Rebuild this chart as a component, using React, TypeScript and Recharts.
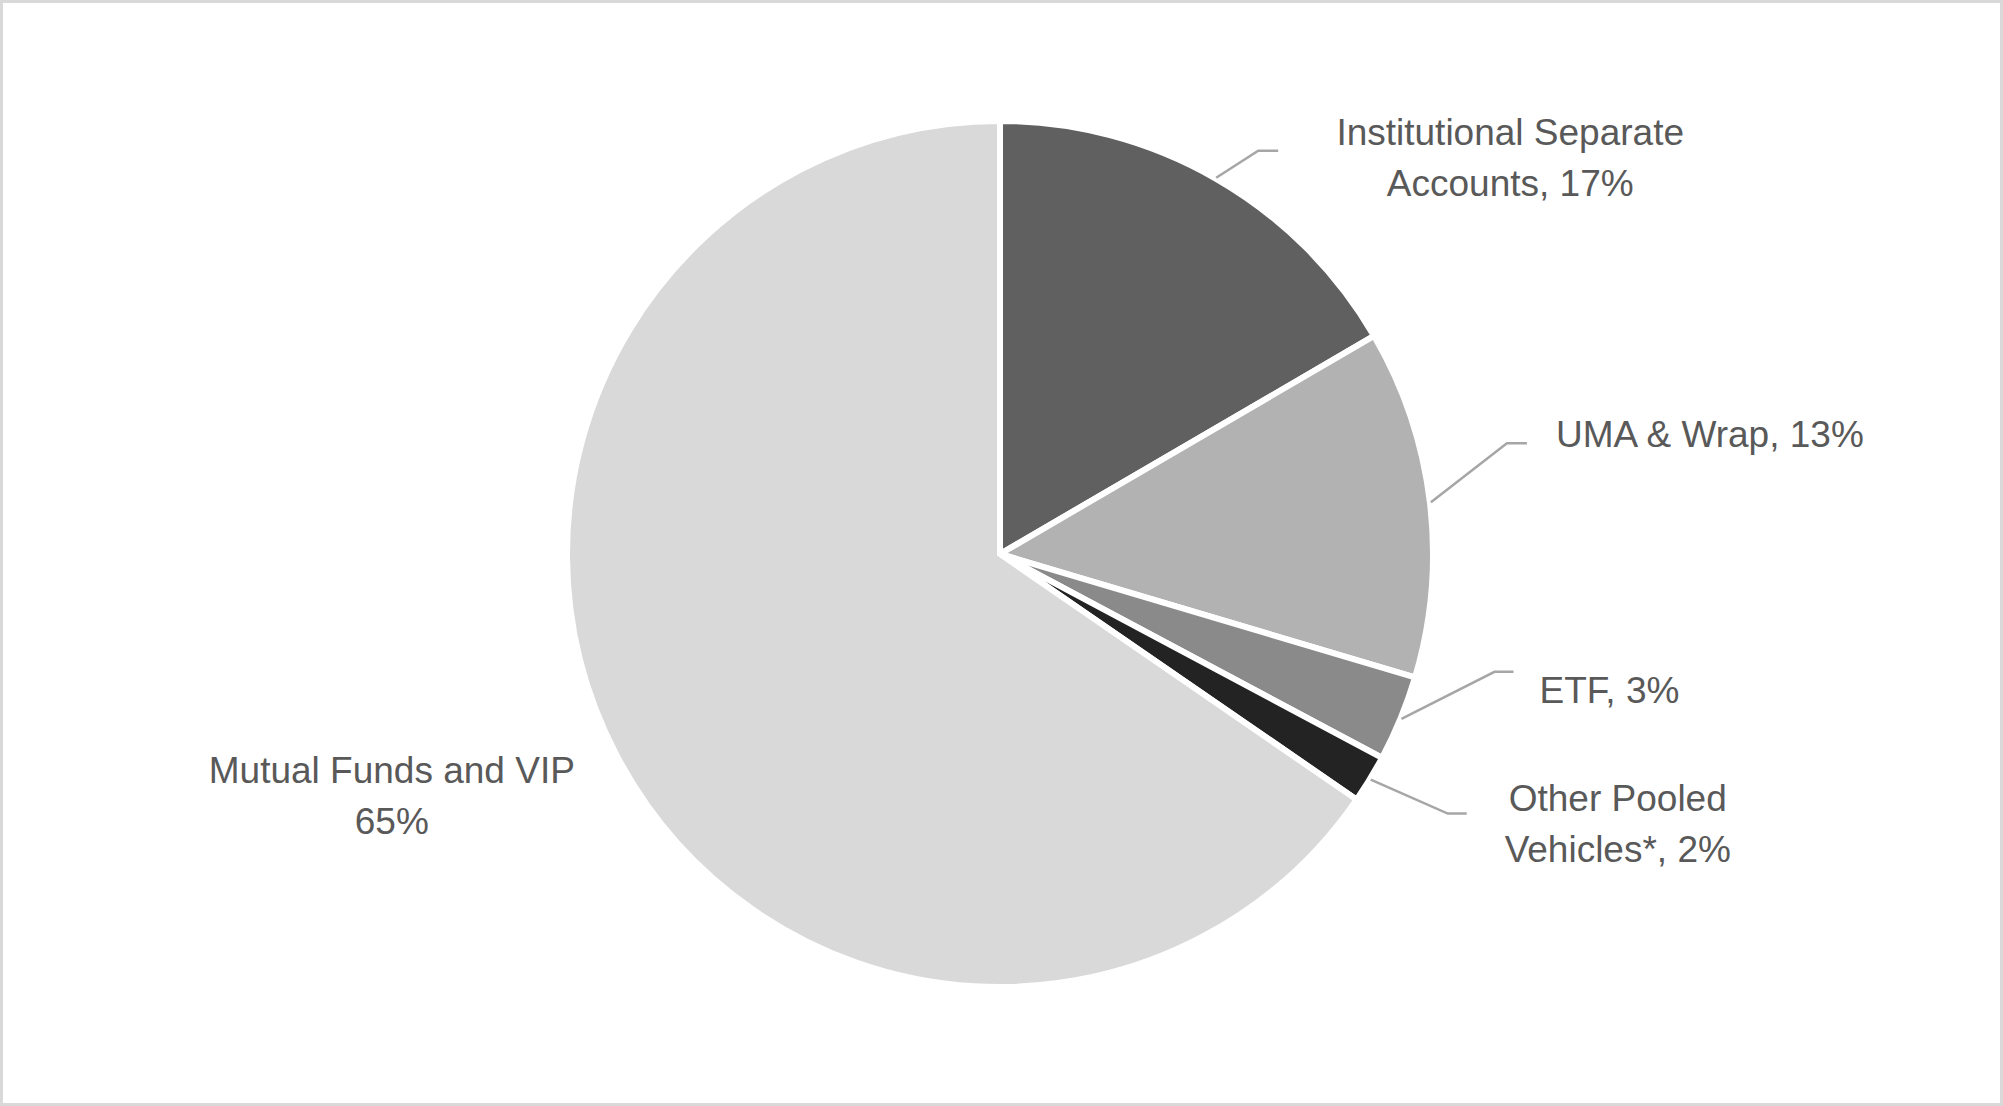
import { PieChart, Pie, Cell } from "recharts";

// Share of assets by vehicle (percent)
const categories = [
  "Institutional Separate Accounts",
  "UMA & Wrap",
  "ETF",
  "Other Pooled Vehicles*",
  "Mutual Funds and VIP",
];
const shares = [16.6, 13.0, 3.2, 1.8, 65.4];
const sliceColors = ["#606060", "#b2b2b2", "#8a8a8a", "#232323", "#d9d9d9"];

// how many words stay on the first label row ("pct" = percent on its own row)
const labelWraps: (number | "pct")[] = [2, 0, 0, 2, "pct"];

const data = categories.map((name, i) => ({ name, value: shares[i] }));

// label placement relative to the point just outside the rim at the slice middle
const labelLayout = [
  { bend: [42, -27], end: [62, -27], text: [294, -33] },
  { bend: [76, -59], end: [96, -59], text: [279, -55] },
  { bend: [93, -47], end: [112, -47], text: [208, -16] },
  { bend: [77, 34], end: [96, 34], text: [247, 31] },
  { bend: null, end: null, text: [-224, 27] },
];

const RADIAN = Math.PI / 180;
const FONT = "'Liberation Sans', Arial, sans-serif";

const labelRows = (name: string, pct: number, wrap: number | "pct") => {
  if (wrap === "pct") return [name, `${pct}%`];
  const words = name.split(" ");
  if (wrap > 0 && wrap < words.length) {
    return [words.slice(0, wrap).join(" "), `${words.slice(wrap).join(" ")}, ${pct}%`];
  }
  return [`${name}, ${pct}%`];
};

const renderLabel = (props: any) => {
  const { cx, cy, midAngle, outerRadius, index, name, percent } = props;
  const r = outerRadius + 1;
  const sx = cx + r * Math.cos(-midAngle * RADIAN);
  const sy = cy + r * Math.sin(-midAngle * RADIAN);
  const lay = labelLayout[index];
  const rows = labelRows(name, Math.round(percent * 100), labelWraps[index]);
  return (
    <g>
      {lay.bend && lay.end && (
        <polyline
          points={`${sx},${sy} ${sx + lay.bend[0]},${sy + lay.bend[1]} ${sx + lay.end[0]},${sy + lay.end[1]}`}
          fill="none"
          stroke="#a6a6a6"
          strokeWidth={2.5}
        />
      )}
      <text
        x={sx + lay.text[0]}
        y={sy + lay.text[1]}
        textAnchor="middle"
        fill="#595959"
        fontSize={37}
        fontFamily={FONT}
      >
        {rows.map((row, k) => (
          <tspan key={k} x={sx + lay.text[0]} dy={k === 0 ? 0 : 51}>
            {row}
          </tspan>
        ))}
      </text>
    </g>
  );
};

const App = () => {
  return (
    <div
      style={{
        width: 2003,
        height: 1106,
        boxSizing: "border-box",
        border: "3px solid #d9d9d9",
        background: "#ffffff",
        overflow: "hidden",
      }}
    >
      <style>{"body{margin:0}"}</style>
      <PieChart width={1997} height={1100} margin={{ top: 0, right: 0, bottom: 0, left: 0 }}>
        <Pie
          data={data}
          dataKey="value"
          nameKey="name"
          cx={997}
          cy={551}
          outerRadius={433}
          startAngle={90}
          endAngle={-270}
          stroke="#ffffff"
          strokeWidth={6}
          label={renderLabel}
          labelLine={false}
          isAnimationActive={false}
        >
          {data.map((d, i) => (
            <Cell key={d.name} fill={sliceColors[i]} />
          ))}
        </Pie>
      </PieChart>
    </div>
  );
};

export default App;
